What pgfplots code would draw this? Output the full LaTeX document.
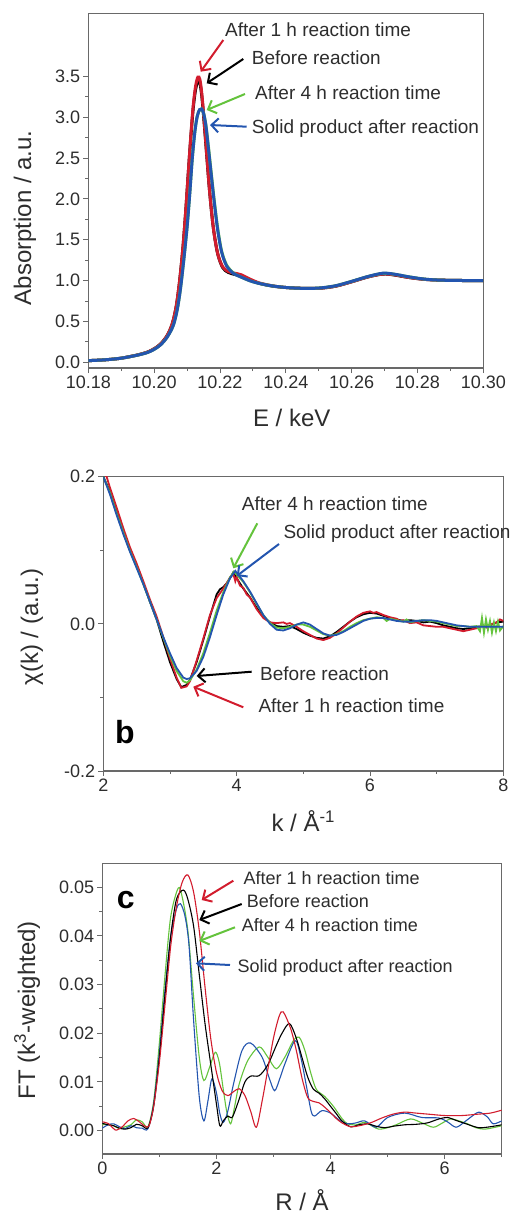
\documentclass[border=0pt]{standalone}
\usepackage{fontspec}
\setmainfont{Liberation Sans}
\usepackage{pgfplots}
\pgfplotsset{compat=1.18}
\usetikzlibrary{arrows.meta}
\definecolor{cred}{RGB}{210,28,45}
\definecolor{cgreen}{RGB}{100,195,60}
\definecolor{cblue}{RGB}{35,85,175}
\definecolor{axgray}{RGB}{105,105,105}
\definecolor{txtgray}{RGB}{45,45,45}
\pgfplotsset{
  panel/.style={
    scale only axis, anchor=south west,
    axis line style={draw=axgray, line width=1.2pt},
    tick style={draw=axgray, line width=0.9pt},
    tick align=outside, tick pos=left,
    major tick length=5pt, minor tick length=3pt,
    scaled ticks=false,
    ticklabel style={font=\fontsize{18}{20}\selectfont, text=txtgray, inner sep=3pt},
    /pgf/number format/assume math mode=true,
    label style={font=\fontsize{24}{28}\selectfont, text=txtgray},
  },
}
\tikzset{
  ann/.style={line width=2pt, -{Straight Barb[length=7pt,width=14pt]}},
  annt/.style={anchor=base west, inner sep=0pt, text=txtgray, font=\fontsize{19}{22}\selectfont},
}
\begin{document}
\begin{tikzpicture}
\useasboundingbox (0pt,0pt) rectangle (514pt,-1214pt);
% ---------------- Panel a ----------------
\begin{axis}[panel, at={(88.3pt,-368pt)}, width=395pt, height=354.7pt,
  xmin=10.18, xmax=10.30, ymin=-0.07, ymax=4.27,
  xtick={10.18,10.20,10.22,10.24,10.26,10.28,10.30},
  minor xtick={10.19,10.21,10.23,10.25,10.27,10.29},
  ytick={0,0.5,1,1.5,2,2.5,3,3.5},
  minor ytick={0.25,0.75,1.25,1.75,2.25,2.75,3.25},
  xticklabel style={/pgf/number format/fixed, /pgf/number format/fixed zerofill, /pgf/number format/precision=2},
  yticklabel style={/pgf/number format/fixed, /pgf/number format/fixed zerofill, /pgf/number format/precision=1},
  xlabel={E / keV}, ylabel={Absorption / a.u.},
  xlabel style={at={(axis description cs:0.515,0)}, anchor=base, yshift=-58.7pt},
  ylabel style={at={(axis description cs:-0.145,0.423)}, anchor=base, rotate=0},
]
\addplot[black, line width=3pt, smooth] coordinates {
(10.180,0.020) (10.185,0.030) (10.190,0.050) (10.195,0.090) (10.198,0.125) (10.200,0.165)
(10.202,0.225) (10.204,0.330) (10.2055,0.470) (10.2067,0.680) (10.2077,0.980) (10.2087,1.380)
(10.2096,1.850) (10.2104,2.330) (10.2112,2.780) (10.2119,3.120) (10.2126,3.340) (10.2133,3.440)
(10.2139,3.420) (10.2145,3.250) (10.2152,2.930) (10.2160,2.520) (10.2169,2.070) (10.2180,1.640)
(10.2193,1.330) (10.2208,1.160) (10.2225,1.100) (10.2245,1.075) (10.2265,1.055) (10.2290,1.010)
(10.2320,0.965) (10.2360,0.932) (10.2400,0.915) (10.2450,0.905) (10.2500,0.905) (10.2550,0.930)
(10.2600,0.985) (10.2650,1.045) (10.2695,1.080) (10.2730,1.068) (10.2770,1.040) (10.2820,1.015)
(10.2870,1.005) (10.2950,1.000) (10.3000,1.000)};
\addplot[cred, line width=3pt, smooth] coordinates {
(10.180,0.020) (10.185,0.030) (10.190,0.050) (10.195,0.090) (10.198,0.125) (10.200,0.165)
(10.202,0.225) (10.204,0.330) (10.2055,0.470) (10.2067,0.680) (10.2077,0.980) (10.2087,1.380)
(10.2096,1.850) (10.2104,2.330) (10.2112,2.800) (10.2119,3.150) (10.2126,3.380) (10.2133,3.490)
(10.2139,3.460) (10.2145,3.280) (10.2152,2.950) (10.2160,2.530) (10.2169,2.070) (10.2180,1.640)
(10.2193,1.330) (10.2208,1.170) (10.2225,1.110) (10.2245,1.090) (10.2265,1.070) (10.2290,1.020)
(10.2320,0.970) (10.2360,0.935) (10.2400,0.915) (10.2450,0.905) (10.2500,0.905) (10.2550,0.930)
(10.2600,0.985) (10.2650,1.045) (10.2695,1.080) (10.2730,1.070) (10.2770,1.040) (10.2820,1.015)
(10.2870,1.005) (10.2950,1.000) (10.3000,1.000)};
\addplot[cgreen, line width=3pt, smooth] coordinates {
(10.180,0.020) (10.185,0.030) (10.190,0.050) (10.195,0.088) (10.198,0.120) (10.200,0.158)
(10.202,0.215) (10.204,0.310) (10.2058,0.450) (10.2070,0.640) (10.2080,0.900) (10.2090,1.250)
(10.2100,1.650) (10.2108,2.050) (10.2116,2.500) (10.2124,2.830) (10.2131,3.010) (10.2138,3.090)
(10.2144,3.100) (10.2150,3.050) (10.2157,2.910) (10.2164,2.670) (10.2172,2.370) (10.2182,2.000)
(10.2193,1.640) (10.2205,1.360) (10.2220,1.190) (10.2240,1.095) (10.2260,1.050) (10.2300,0.985)
(10.2350,0.940) (10.2400,0.915) (10.2450,0.905) (10.2500,0.908) (10.2550,0.935) (10.2600,0.990)
(10.2650,1.050) (10.2695,1.088) (10.2730,1.077) (10.2770,1.048) (10.2820,1.018) (10.2870,1.005)
(10.2950,1.000) (10.3000,1.000)};
\addplot[cblue, line width=3pt, smooth] coordinates {
(10.180,0.020) (10.185,0.030) (10.190,0.050) (10.195,0.088) (10.198,0.120) (10.200,0.158)
(10.202,0.215) (10.204,0.310) (10.2058,0.450) (10.2070,0.640) (10.2080,0.900) (10.2090,1.250)
(10.2100,1.650) (10.2108,2.050) (10.2116,2.500) (10.2124,2.830) (10.2131,3.010) (10.2138,3.090)
(10.2144,3.100) (10.2150,3.050) (10.2157,2.900) (10.2164,2.650) (10.2172,2.350) (10.2182,1.980)
(10.2193,1.620) (10.2205,1.350) (10.2220,1.180) (10.2240,1.090) (10.2260,1.050) (10.2300,0.985)
(10.2350,0.940) (10.2400,0.915) (10.2450,0.905) (10.2500,0.908) (10.2550,0.935) (10.2600,0.990)
(10.2650,1.050) (10.2695,1.090) (10.2730,1.078) (10.2770,1.048) (10.2820,1.018) (10.2870,1.005)
(10.2950,1.000) (10.3000,1.000)};
\end{axis}
% ---------------- Panel b ----------------
\begin{axis}[panel, at={(103.3pt,-771pt)}, width=400pt, height=294.3pt,
  xmin=2, xmax=8, ymin=-0.2, ymax=0.2,
  xtick={2,4,6,8}, minor xtick={3,5,7},
  ytick={-0.2,0,0.2}, minor ytick={-0.1,0.1},
  yticklabel style={/pgf/number format/fixed, /pgf/number format/fixed zerofill, /pgf/number format/precision=1},
  xlabel={k / Å\textsuperscript{-1}}, ylabel={χ(k) / (a.u.)},
  xlabel style={at={(axis description cs:0.5,0)}, anchor=base, yshift=-60.7pt},
  ylabel style={at={(axis description cs:-0.163,0.489)}, anchor=base},
]
\addplot[black, line width=1.8pt] coordinates {
(2.00,0.200) (2.10,0.180) (2.20,0.152) (2.30,0.125) (2.40,0.100) (2.50,0.080) (2.60,0.055)
(2.70,0.030) (2.80,0.006) (2.90,-0.024) (3.00,-0.052) (3.10,-0.075) (3.17,-0.086) (3.25,-0.083)
(3.30,-0.076) (3.40,-0.052) (3.50,-0.022) (3.60,0.010) (3.70,0.040) (3.75,0.047) (3.80,0.050)
(3.85,0.055) (3.90,0.062) (3.95,0.070) (4.00,0.062) (4.05,0.055) (4.10,0.048) (4.20,0.036)
(4.30,0.022) (4.40,0.010) (4.50,0.002) (4.60,-0.003) (4.70,-0.004) (4.80,-0.003) (4.90,-0.007)
(5.00,-0.012) (5.10,-0.016) (5.20,-0.019) (5.30,-0.020) (5.40,-0.017) (5.50,-0.011) (5.60,-0.004)
(5.70,0.003) (5.80,0.009) (5.90,0.013) (6.00,0.015) (6.10,0.014) (6.20,0.011) (6.30,0.008)
(6.40,0.006) (6.50,0.004) (6.60,0.005) (6.70,0.004) (6.80,0.002) (6.90,0.003) (7.00,0.001)
(7.10,-0.002) (7.20,-0.004) (7.30,-0.006) (7.40,-0.007) (7.50,-0.006) (7.60,-0.004) (7.70,-0.003)
(7.80,-0.002) (7.90,0.002) (8.00,0.003)};
\addplot[cred, line width=1.8pt] coordinates {
(2.00,0.205) (2.05,0.200) (2.10,0.185) (2.20,0.158) (2.30,0.130) (2.40,0.104) (2.50,0.082)
(2.60,0.058) (2.70,0.033) (2.80,0.010) (2.90,-0.018) (3.00,-0.047) (3.10,-0.073) (3.17,-0.087)
(3.25,-0.085) (3.30,-0.078) (3.40,-0.050) (3.50,-0.020) (3.60,0.012) (3.70,0.035) (3.80,0.048)
(3.85,0.055) (3.90,0.063) (3.95,0.068) (3.98,0.058) (4.00,0.064) (4.05,0.052) (4.10,0.049)
(4.15,0.040) (4.20,0.036) (4.30,0.020) (4.40,0.008) (4.50,0.002) (4.60,0.001) (4.70,0.002)
(4.75,0.000) (4.80,0.001) (4.90,-0.004) (5.00,-0.010) (5.10,-0.015) (5.20,-0.020) (5.30,-0.022)
(5.40,-0.019) (5.50,-0.013) (5.60,-0.005) (5.70,0.003) (5.80,0.010) (5.90,0.015) (6.00,0.017)
(6.05,0.015) (6.10,0.016) (6.20,0.012) (6.30,0.009) (6.40,0.007) (6.45,0.004) (6.50,0.005)
(6.60,0.001) (6.70,0.002) (6.80,-0.002) (6.90,-0.003) (7.00,-0.004) (7.10,-0.004) (7.20,-0.006)
(7.30,-0.008) (7.40,-0.010) (7.50,-0.008) (7.60,-0.006) (7.70,-0.002) (7.75,-0.005) (7.80,-0.001)
(7.90,0.002) (7.95,0.006) (8.00,0.004)};
\addplot[cgreen, line width=1.8pt] coordinates {
(2.00,0.200) (2.10,0.178) (2.20,0.150) (2.30,0.124) (2.40,0.099) (2.50,0.077) (2.60,0.054)
(2.70,0.030) (2.80,0.006) (2.90,-0.019) (3.00,-0.043) (3.10,-0.064) (3.20,-0.078) (3.25,-0.080)
(3.30,-0.077) (3.40,-0.062) (3.50,-0.040) (3.60,-0.012) (3.70,0.018) (3.80,0.043) (3.90,0.063)
(3.96,0.071) (4.05,0.062) (4.10,0.057) (4.20,0.043) (4.30,0.027) (4.40,0.012) (4.50,0.001)
(4.60,-0.005) (4.70,-0.006) (4.80,-0.004) (4.90,-0.001) (5.00,-0.001) (5.10,-0.004) (5.20,-0.009)
(5.30,-0.014) (5.40,-0.016) (5.50,-0.014) (5.60,-0.010) (5.70,-0.004) (5.80,0.001) (5.90,0.005)
(6.00,0.007) (6.10,0.009) (6.20,0.008) (6.25,0.004) (6.30,0.007) (6.40,0.005) (6.50,0.003)
(6.55,0.006) (6.60,0.002) (6.70,0.004) (6.80,0.005) (6.90,0.004) (7.00,0.003) (7.10,0.001)
(7.20,-0.001) (7.30,-0.003) (7.40,-0.003) (7.50,-0.004) (7.60,-0.003) (7.65,-0.010) (7.68,0.008)
(7.71,-0.012) (7.74,0.006) (7.77,-0.008) (7.80,0.004) (7.83,-0.012) (7.86,0.002) (7.89,-0.010)
(7.92,0.003) (7.95,-0.009) (8.00,-0.003)};
\addplot[cblue, line width=1.8pt] coordinates {
(2.00,0.200) (2.10,0.176) (2.20,0.148) (2.30,0.122) (2.40,0.098) (2.50,0.076) (2.60,0.054)
(2.70,0.030) (2.80,0.006) (2.90,-0.018) (3.00,-0.040) (3.10,-0.060) (3.20,-0.073) (3.25,-0.075)
(3.30,-0.074) (3.40,-0.064) (3.50,-0.045) (3.60,-0.018) (3.70,0.012) (3.80,0.040) (3.90,0.062)
(3.98,0.072) (4.05,0.064) (4.10,0.058) (4.20,0.044) (4.30,0.028) (4.40,0.012) (4.50,0.000)
(4.60,-0.008) (4.70,-0.009) (4.80,-0.006) (4.90,-0.001) (5.00,0.002) (5.10,-0.001) (5.20,-0.007)
(5.30,-0.013) (5.40,-0.016) (5.50,-0.015) (5.60,-0.011) (5.70,-0.006) (5.80,-0.001) (5.90,0.004)
(6.00,0.007) (6.10,0.008) (6.20,0.008) (6.30,0.006) (6.40,0.004) (6.50,0.003) (6.60,0.003)
(6.70,0.004) (6.80,0.005) (6.90,0.005) (7.00,0.004) (7.10,0.002) (7.20,0.000) (7.30,-0.002)
(7.40,-0.003) (7.50,-0.004) (7.60,-0.004) (7.70,-0.004) (7.80,-0.004) (7.90,-0.004) (8.00,-0.004)};
\end{axis}
% ---------------- Panel c ----------------
\begin{axis}[panel, at={(102.3pt,-1154pt)}, width=399.4pt, height=290.7pt,
  xmin=0, xmax=7, ymin=-0.0048, ymax=0.0549,
  xtick={0,2,4,6}, minor xtick={1,3,5,7},
  ytick={0,0.01,0.02,0.03,0.04,0.05}, minor ytick={0.005,0.015,0.025,0.035,0.045},
  yticklabel style={/pgf/number format/fixed, /pgf/number format/fixed zerofill, /pgf/number format/precision=2},
  xlabel={R / Å}, ylabel={FT (k\textsuperscript{3}-weighted)},
  xlabel style={at={(axis description cs:0.5,0)}, anchor=base, yshift=-56.5pt},
  ylabel style={at={(axis description cs:-0.1685,0.495)}, anchor=base},
]
\addplot[cgreen, line width=1.1pt, smooth] coordinates {
(0.00,0.0012) (0.10,0.0013) (0.20,0.0010) (0.30,0.0004) (0.40,0.0008) (0.50,0.0012) (0.60,0.0022)
(0.70,0.0018) (0.80,0.0008) (0.90,0.0060) (1.00,0.0180) (1.10,0.0320) (1.20,0.0440) (1.33,0.0498)
(1.40,0.0480) (1.50,0.0410) (1.60,0.0275) (1.70,0.0150) (1.78,0.0103) (1.88,0.0130) (1.98,0.0161)
(2.05,0.0140) (2.12,0.0085) (2.18,0.0040) (2.25,0.0014) (2.32,0.0050) (2.40,0.0096) (2.55,0.0144)
(2.75,0.0172) (2.90,0.0151) (3.05,0.0127) (3.20,0.0151) (3.35,0.0185) (3.45,0.0192) (3.55,0.0165)
(3.65,0.0120) (3.75,0.0085) (3.90,0.0070) (4.05,0.0050) (4.20,0.0025) (4.30,0.0014) (4.45,0.0012)
(4.60,0.0017) (4.75,0.0008) (4.85,0.0003) (5.00,0.0006) (5.15,0.0012) (5.40,0.0024) (5.60,0.0016)
(5.80,0.0007) (5.95,0.0015) (6.10,0.0024) (6.25,0.0020) (6.40,0.0014) (6.55,0.0006) (6.70,0.0003)
(6.85,0.0006) (7.00,0.0010)};
\addplot[cblue, line width=1.1pt, smooth] coordinates {
(0.00,0.0005) (0.10,0.0012) (0.20,0.0014) (0.30,0.0008) (0.40,0.0004) (0.50,0.0010) (0.60,0.0006)
(0.70,0.0005) (0.80,0.0004) (0.90,0.0055) (1.00,0.0160) (1.10,0.0290) (1.20,0.0400) (1.30,0.0455)
(1.37,0.0466) (1.45,0.0440) (1.52,0.0380) (1.60,0.0227) (1.70,0.0069) (1.78,0.0020) (1.85,0.0060)
(1.92,0.0106) (2.00,0.0078) (2.06,0.0035) (2.12,0.0017) (2.20,0.0040) (2.30,0.0096) (2.45,0.0165)
(2.60,0.0180) (2.80,0.0151) (2.92,0.0110) (3.02,0.0082) (3.12,0.0110) (3.20,0.0137) (3.38,0.0185)
(3.48,0.0150) (3.58,0.0090) (3.66,0.0040) (3.72,0.0030) (3.85,0.0041) (4.00,0.0036) (4.15,0.0022)
(4.30,0.0014) (4.45,0.0016) (4.60,0.0020) (4.80,0.0007) (5.00,0.0027) (5.30,0.0036) (5.60,0.0027)
(5.90,0.0026) (6.05,0.0018) (6.20,0.0007) (6.35,0.0018) (6.45,0.0027) (6.60,0.0038) (6.75,0.0028)
(6.85,0.0014) (7.00,0.0020)};
\addplot[black, line width=1.1pt, smooth] coordinates {
(0.00,0.0015) (0.10,0.0012) (0.20,0.0010) (0.30,0.0005) (0.40,0.0003) (0.50,0.0006) (0.60,0.0013)
(0.70,0.0010) (0.80,0.0006) (0.90,0.0050) (1.00,0.0150) (1.10,0.0280) (1.20,0.0400) (1.30,0.0475)
(1.42,0.0494) (1.50,0.0475) (1.60,0.0420) (1.70,0.0320) (1.80,0.0220) (1.90,0.0137) (2.00,0.0055)
(2.06,0.0010) (2.12,0.0020) (2.20,0.0030) (2.28,0.0028) (2.40,0.0065) (2.50,0.0100) (2.60,0.0112)
(2.75,0.0113) (2.90,0.0135) (3.05,0.0175) (3.15,0.0200) (3.28,0.0220) (3.40,0.0190) (3.50,0.0150)
(3.60,0.0110) (3.70,0.0085) (3.80,0.0077) (3.90,0.0065) (4.00,0.0050) (4.10,0.0035) (4.20,0.0020)
(4.35,0.0008) (4.50,0.0012) (4.65,0.0014) (4.80,0.0009) (4.95,0.0006) (5.10,0.0009) (5.30,0.0012)
(5.50,0.0013) (5.70,0.0016) (5.90,0.0024) (6.05,0.0027) (6.20,0.0021) (6.40,0.0013) (6.60,0.0006)
(6.80,0.0008) (7.00,0.0012)};
\addplot[cred, line width=1.1pt, smooth] coordinates {
(0.00,0.0018) (0.10,0.0015) (0.20,0.0004) (0.25,0.0001) (0.35,0.0008) (0.45,0.0020) (0.55,0.0025)
(0.65,0.0018) (0.75,0.0009) (0.82,0.0010) (0.90,0.0050) (1.00,0.0140) (1.10,0.0260) (1.20,0.0380)
(1.30,0.0460) (1.40,0.0510) (1.50,0.0525) (1.60,0.0490) (1.70,0.0410) (1.80,0.0295) (1.90,0.0190)
(2.00,0.0120) (2.10,0.0082) (2.20,0.0072) (2.30,0.0080) (2.40,0.0086) (2.50,0.0072) (2.60,0.0040)
(2.70,0.0007) (2.80,0.0060) (2.90,0.0125) (3.00,0.0190) (3.10,0.0235) (3.17,0.0244) (3.30,0.0210)
(3.40,0.0165) (3.50,0.0108) (3.60,0.0068) (3.70,0.0060) (3.80,0.0057) (3.90,0.0048) (4.00,0.0037)
(4.10,0.0025) (4.20,0.0016) (4.35,0.0008) (4.50,0.0010) (4.70,0.0016) (4.90,0.0026) (5.10,0.0034)
(5.30,0.0038) (5.50,0.0036) (5.70,0.0034) (6.00,0.0031) (6.30,0.0031) (6.60,0.0034) (6.80,0.0036)
(7.00,0.0042)};
\end{axis}
% ---------------- Annotations ----------------
% panel a
\node[annt] at (225pt,-36.7pt) {After 1 h reaction time};
\draw[ann, cred] (223.3pt,-40pt) -- (200.7pt,-71.7pt);
\node[annt] at (251.7pt,-65pt) {Before reaction};
\draw[ann, black] (243.3pt,-59pt) -- (206.7pt,-83.3pt);
\node[annt] at (255pt,-100pt) {After 4 h reaction time};
\draw[ann, cgreen] (245pt,-94pt) -- (206.7pt,-110pt);
\node[annt] at (251.7pt,-133.3pt) {Solid product after reaction};
\draw[ann, cblue] (246.7pt,-126.7pt) -- (210pt,-125pt);
% panel b
\node[annt] at (241.7pt,-510pt) {After 4 h reaction time};
\draw[ann, cgreen] (257.3pt,-523.3pt) -- (233.3pt,-568.3pt);
\node[annt] at (283.3pt,-538.3pt) {Solid product after reaction};
\draw[ann, cblue] (279pt,-544pt) -- (236.7pt,-576pt);
\node[annt] at (260pt,-680pt) {Before reaction};
\draw[ann, black] (251.7pt,-671.7pt) -- (196.7pt,-676pt);
\node[annt] at (258.3pt,-712.7pt) {After 1 h reaction time};
\draw[ann, cred] (243.3pt,-707.3pt) -- (193.3pt,-686.7pt);
\node[anchor=base west, inner sep=0pt, font=\fontsize{32}{36}\selectfont\bfseries] at (115pt,-743.3pt) {b};
% panel c
\node[annt, font=\fontsize{18}{21}\selectfont] at (243.3pt,-884.3pt) {After 1 h reaction time};
\draw[ann, cred] (233.3pt,-880.7pt) -- (201.7pt,-900pt);
\node[annt, font=\fontsize{18}{21}\selectfont] at (246.7pt,-907.3pt) {Before reaction};
\draw[ann, black] (241.7pt,-904pt) -- (199.3pt,-920pt);
\node[annt, font=\fontsize{18}{21}\selectfont] at (241.7pt,-931pt) {After 4 h reaction time};
\draw[ann, cgreen] (235pt,-927.3pt) -- (199.3pt,-941pt);
\node[annt, font=\fontsize{18}{21}\selectfont] at (237.3pt,-972.7pt) {Solid product after reaction};
\draw[ann, cblue] (230pt,-965pt) -- (196pt,-963.3pt);
\node[anchor=base west, inner sep=0pt, font=\fontsize{32}{36}\selectfont\bfseries] at (116.7pt,-908.3pt) {c};
\end{tikzpicture}
\end{document}
